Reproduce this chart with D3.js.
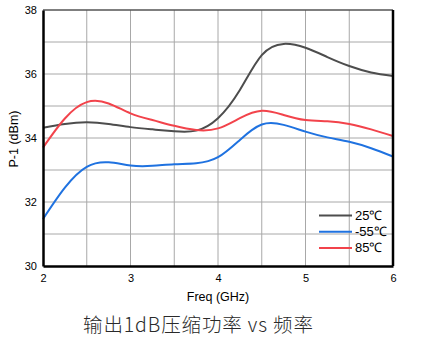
<!DOCTYPE html>
<html><head><meta charset="utf-8">
<script src="https://cdn.jsdelivr.net/npm/d3@7/dist/d3.min.js"></script>
<style>body{margin:0;background:#fff;}svg{display:block;}</style>
</head><body><svg id="c" width="431" height="343"></svg>
<script>
const freqs = [2, 2.25, 2.5, 2.75, 3, 3.25, 3.5, 3.75, 4, 4.25, 4.5, 4.75, 5, 5.25, 5.5, 5.75, 6];
const p25 = [34.32, 34.44, 34.49, 34.44, 34.34, 34.27, 34.21, 34.23, 34.62, 35.5, 36.59, 36.94, 36.82, 36.53, 36.25, 36.05, 35.94];
const pm55 = [31.47, 32.45, 33.1, 33.24, 33.14, 33.13, 33.18, 33.21, 33.4, 33.94, 34.42, 34.41, 34.2, 34.02, 33.88, 33.68, 33.42];
const p85 = [33.7, 34.61, 35.12, 35.08, 34.77, 34.56, 34.38, 34.25, 34.3, 34.62, 34.85, 34.72, 34.56, 34.52, 34.44, 34.27, 34.06];
const seriesNames = ["25\u2103", "-55\u2103", "85\u2103"];
const seriesColors = ["#4d4d4d", "#1f72e0", "#f2434b"];
const xTicks = [2, 3, 4, 5, 6];
const yTicks = [30, 32, 34, 36, 38];
const title = "输出1dB压缩功率 vs 频率";

const svg = d3.select("#c");
const m = {l: 43, r: 393, t: 10, b: 266};
const x = d3.scaleLinear().domain([2, 6]).range([m.l, m.r]);
const y = d3.scaleLinear().domain([30, 38]).range([m.b, m.t]);

// grid
const g = svg.append("g");
g.selectAll("line.vx").data(d3.range(2.5, 6, 0.5)).enter().append("line")
  .attr("x1", d => x(d)).attr("x2", d => x(d)).attr("y1", m.t).attr("y2", m.b)
  .attr("stroke", "#a8a8a8").attr("stroke-width", 1);
g.selectAll("line.hy").data(d3.range(31, 38, 1)).enter().append("line")
  .attr("y1", d => y(d)).attr("y2", d => y(d)).attr("x1", m.l).attr("x2", m.r)
  .attr("stroke", "#a8a8a8").attr("stroke-width", 1);

// lines
const all = [p25, pm55, p85];
const line = d3.line().x((d, i) => x(freqs[i])).y(d => y(d)).curve(d3.curveNatural);
all.forEach((s, k) => {
  svg.append("path").attr("d", line(s)).attr("fill", "none")
    .attr("stroke", seriesColors[k]).attr("stroke-width", 2);
});

// frame
svg.append("line").attr("x1", m.l).attr("x2", m.r).attr("y1", m.t).attr("y2", m.t)
  .attr("stroke", "#555").attr("stroke-width", 1.5);
svg.append("line").attr("x1", m.r).attr("x2", m.r).attr("y1", m.t).attr("y2", m.b)
  .attr("stroke", "#000").attr("stroke-width", 2.5);

// axes
const xa = svg.append("g").attr("transform", `translate(0,${m.b})`)
  .call(d3.axisBottom(x).tickValues(xTicks).tickSize(0).tickPadding(6).tickFormat(d3.format("d")));
const ya = svg.append("g").attr("transform", `translate(${m.l},0)`)
  .call(d3.axisLeft(y).tickValues(yTicks).tickSize(0).tickPadding(6).tickFormat(d3.format("d")));
[xa, ya].forEach(a => {
  a.select(".domain").attr("stroke", "#000").attr("stroke-width", 2.5);
  a.selectAll("text").attr("font-family", "Liberation Sans, Arial, sans-serif").attr("font-size", 11).attr("fill", "#000");
});
xa.selectAll("text").attr("dy", "0.9em");

svg.append("text").attr("x", (m.l + m.r) / 2).attr("y", 301).attr("text-anchor", "middle")
  .attr("font-family", "Liberation Sans, Arial, sans-serif").attr("font-size", 12.5).text("Freq (GHz)");
svg.append("text").attr("transform", "translate(18,139) rotate(-90)").attr("text-anchor", "middle")
  .attr("font-family", "Liberation Sans, Arial, sans-serif").attr("font-size", 12.5).text("P-1 (dBm)");

// legend
seriesNames.forEach((n, k) => {
  const ly = 215.5 + k * 16.2;
  svg.append("line").attr("x1", 319).attr("x2", 352).attr("y1", ly).attr("y2", ly)
    .attr("stroke", seriesColors[k]).attr("stroke-width", 2);
  svg.append("text").attr("x", 355).attr("y", ly + 4.5)
    .attr("font-family", "Liberation Sans, Arial, sans-serif").attr("font-size", 13).text(n);
});

svg.append("text").attr("x", 198).attr("y", 332).attr("text-anchor", "middle")
  .attr("font-family", "Noto Sans CJK SC, sans-serif").attr("font-weight", 300).attr("font-size", 19.5).attr("fill", "#2a2a2a")
  .attr("textLength", 230).attr("lengthAdjust", "spacing")
  .text(title);
</script></body></html>
